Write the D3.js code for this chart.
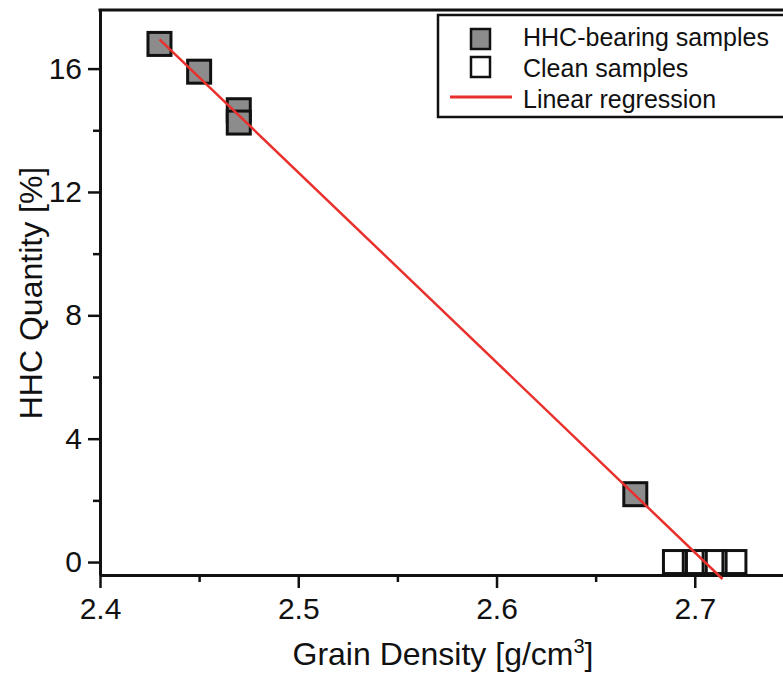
<!DOCTYPE html>
<html>
<head>
	<title>HHC Quantity vs Grain Density</title>
	<script src="https://d3js.org/d3.v7.min.js"></script>
	<style>
		body{
			margin: 0;
			background: #fff;
		}
		svg{
			display: block;
			font-family: "Liberation Sans", Arial, sans-serif;
		}
	</style>
</head>
<body>
	<script>
		// HHC-bearing samples
		var hhcDensity = [2.43, 2.45, 2.47, 2.47, 2.67]
		var hhcQuantity = [16.8, 15.9, 14.65, 14.25, 2.2]
		// clean samples
		var cleanDensity = [2.69, 2.70, 2.71, 2.72]
		var cleanQuantity = [0, 0, 0, 0]
		// regression line end points
		var fitDensity = [2.43, 2.714]
		var fitQuantity = [16.95, -0.55]

		var xTicks = [2.4, 2.5, 2.6, 2.7]
		var xMinor = [2.45, 2.55, 2.65]
		var yTicks = [0, 4, 8, 12, 16]
		var yMinor = [2, 6, 10, 14]
		var legendLabels = ['HHC-bearing samples', 'Clean samples', 'Linear regression']

		var W = 783, H = 673
		var margin = {top: 10, right: 0, bottom: 98, left: 100}
		var red = '#e8302c'
		var grey = '#8c8c8c'

		var svg = d3.select('body').append('svg')
					.attr('width', W)
					.attr('height', H)

		var x = d3.scaleLinear().domain([2.4, 2.7445]).range([margin.left, W])
		var y = d3.scaleLinear().domain([-0.42, 17.9]).range([H - margin.bottom, margin.top])

		var xAxis = d3.axisBottom(x).tickValues(xTicks).tickSize(13).tickSizeOuter(0).tickPadding(10).tickFormat(d3.format('.1f'))
		var yAxis = d3.axisLeft(y).tickValues(yTicks).tickSize(12).tickSizeOuter(0).tickPadding(6).tickFormat(d3.format('d'))

		svg.append('g')
		   .attr('transform', 'translate(0,' + (H - margin.bottom) + ')')
		   .call(xAxis)
		svg.append('g')
		   .attr('transform', 'translate(0,' + (H - margin.bottom) + ')')
		   .call(d3.axisBottom(x).tickValues(xMinor).tickSize(7).tickFormat(''))
		   .call(function(g){ g.select('.domain').remove() })

		svg.append('g')
		   .attr('transform', 'translate(' + margin.left + ',0)')
		   .call(yAxis)
		svg.append('g')
		   .attr('transform', 'translate(' + margin.left + ',0)')
		   .call(d3.axisLeft(y).tickValues(yMinor).tickSize(7).tickFormat(''))
		   .call(function(g){ g.select('.domain').remove() })

		svg.selectAll('.domain').attr('stroke', '#111').attr('stroke-width', 3)
		svg.selectAll('.tick line').attr('stroke', '#111').attr('stroke-width', 2.5)
		svg.selectAll('.tick text')
		   .attr('fill', '#111')
		   .style('font-size', '30px')
		   .style('font-family', '"Liberation Sans", Arial, sans-serif')

		// top frame
		svg.append('line')
		   .attr('x1', margin.left - 1.5).attr('x2', W)
		   .attr('y1', margin.top).attr('y2', margin.top)
		   .attr('stroke', '#111').attr('stroke-width', 3)

		svg.append('text')
		   .attr('x', 443)
		   .attr('y', 665)
		   .attr('text-anchor', 'middle')
		   .attr('fill', '#111')
		   .style('font-size', '32px')
		   .html('Grain Density [g/cm<tspan dy="-12" font-size="20px">3</tspan><tspan dy="12">]</tspan>')

		svg.append('text')
		   .attr('transform', 'translate(42,293) rotate(-90)')
		   .attr('text-anchor', 'middle')
		   .attr('fill', '#111')
		   .style('font-size', '32px')
		   .text('HHC Quantity [%]')

		var sz = 23
		var hhc = hhcDensity.map(function(d, i){ return {x: d, y: hhcQuantity[i]} })
		var clean = cleanDensity.map(function(d, i){ return {x: d, y: cleanQuantity[i]} })

		svg.append('g').selectAll('rect').data(clean).enter()
		   .append('rect')
		   .attr('x', function(d){ return x(d.x) - sz / 2 })
		   .attr('y', function(d){ return y(d.y) - sz / 2 })
		   .attr('width', sz).attr('height', sz)
		   .attr('fill', 'none').attr('stroke', '#111').attr('stroke-width', 3)

		svg.append('g').selectAll('rect').data(hhc).enter()
		   .append('rect')
		   .attr('x', function(d){ return x(d.x) - sz / 2 })
		   .attr('y', function(d){ return y(d.y) - sz / 2 })
		   .attr('width', sz).attr('height', sz)
		   .attr('fill', grey).attr('stroke', '#111').attr('stroke-width', 3)

		// regression line over the squares
		svg.append('line')
		   .attr('x1', x(fitDensity[0])).attr('y1', y(fitQuantity[0]))
		   .attr('x2', x(fitDensity[1])).attr('y2', y(fitQuantity[1]))
		   .attr('stroke', red).attr('stroke-width', 2.5)

		// legend
		var legend = svg.append('g').attr('transform', 'translate(438,15)')
		legend.append('rect')
			  .attr('x', 0).attr('y', 0)
			  .attr('width', 360).attr('height', 102)
			  .attr('fill', '#fff').attr('stroke', '#111').attr('stroke-width', 2.5)
		legend.append('rect')
			  .attr('x', 33).attr('y', 14).attr('width', 19).attr('height', 20)
			  .attr('fill', grey).attr('stroke', '#111').attr('stroke-width', 2.5)
		legend.append('rect')
			  .attr('x', 33).attr('y', 42).attr('width', 19).attr('height', 20)
			  .attr('fill', '#fff').attr('stroke', '#111').attr('stroke-width', 2.5)
		legend.append('line')
			  .attr('x1', 12).attr('x2', 74).attr('y1', 82).attr('y2', 82)
			  .attr('stroke', red).attr('stroke-width', 3)
		legend.selectAll('text.lab').data(legendLabels).enter()
			  .append('text')
			  .attr('class', 'lab')
			  .attr('x', 85)
			  .attr('y', function(d, i){ return 31 + i * 31 })
			  .attr('fill', '#111')
			  .style('font-size', '25px')
			  .text(function(d){ return d })
	</script>
</body>
</html>
